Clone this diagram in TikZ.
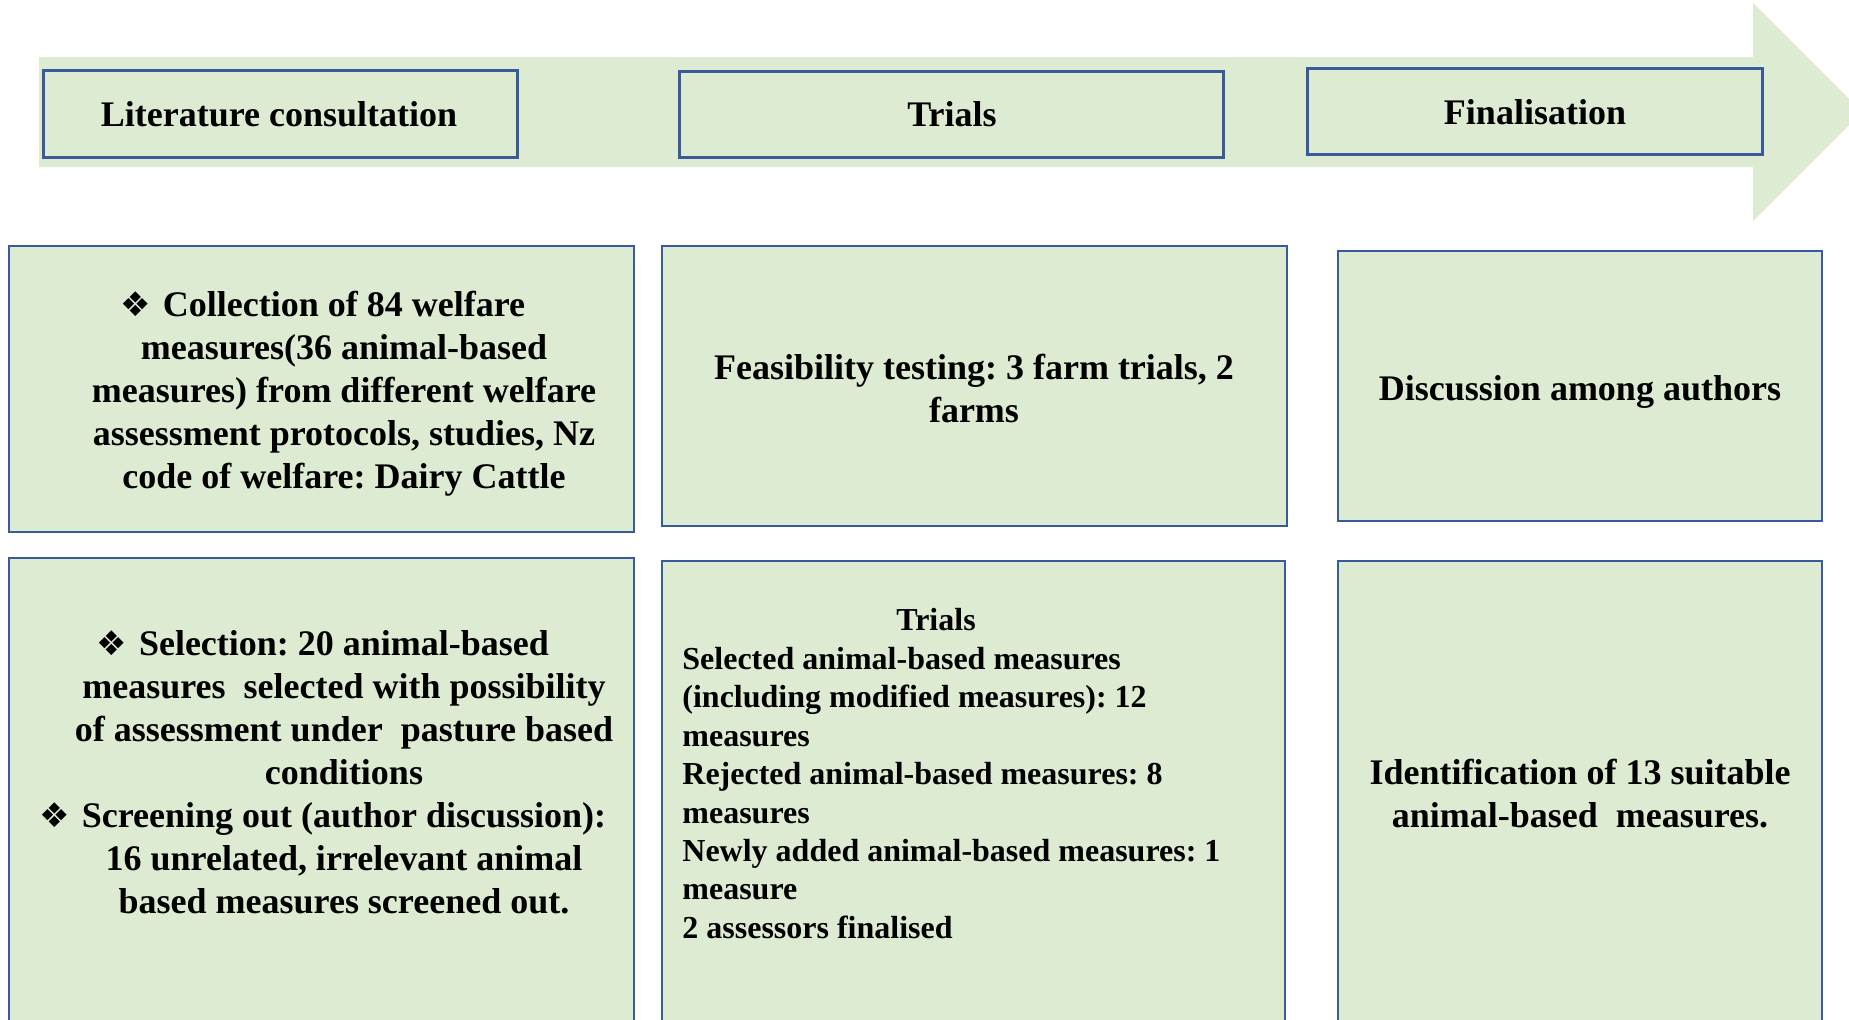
\documentclass[tikz,border=0pt]{standalone}
\usepackage{fontspec}
\setmainfont{Liberation Serif}
\newfontfamily\symfont{DejaVu Sans}
\definecolor{panelgreen}{HTML}{DDEBD2}
\definecolor{panelblue}{HTML}{3A5A9C}
\newcommand{\diabullet}{\llap{{\symfont\fontsize{17}{17}\selectfont\char"2756}\hspace{6pt}}}
\frenchspacing

\tikzset{
    headbox/.style={draw=panelblue,fill=panelgreen,line width=1.5pt},
    panelbox/.style={draw=panelblue,fill=panelgreen,line width=1pt},
    boldtext/.style={font=\bfseries\fontsize{18}{21.5}\selectfont,align=center,inner sep=0pt},
    listtext/.style={font=\bfseries\fontsize{16}{19.2}\selectfont,align=left,inner sep=0pt},
}

\begin{document}
\begin{tikzpicture}[x=0.5pt,y=-0.5pt]
    \useasboundingbox (0,0) rectangle (1849,1019);
    \clip (0,0) rectangle (1849,1019);
    \fill[panelgreen] (39,57)--(1753,57)--(1753,3)--(1862,112)--(1753,221)--(1753,167)--(39,167)--cycle;
    \draw[headbox] (43,70) rectangle (517,157);
    \draw[headbox] (679,71) rectangle (1223,157);
    \draw[headbox] (1307,68) rectangle (1762,154);
    \node[boldtext] (littext) at (279,114) {Literature consultation};
    \node[boldtext] (trialtext) at (952,114) {Trials};
    \node[boldtext] (finaltext) at (1535,112) {Finalisation};
    \draw[panelbox] (9,246) rectangle (634,532);
    \draw[panelbox] (662,246) rectangle (1287,526);
    \draw[panelbox] (1338,251) rectangle (1822,521);
    \draw[panelbox] (9,558) rectangle (634,1040);
    \draw[panelbox] (662,561) rectangle (1285,1040);
    \draw[panelbox] (1338,561) rectangle (1822,1040);
    \node[boldtext] (collect) at (344,394) {\diabullet Collection of 84 welfare\\measures(36 animal-based\\measures) from different welfare\\assessment protocols, studies, Nz\\code of welfare: Dairy Cattle};
    \node[boldtext] (feasible) at (974,388) {Feasibility testing: 3 farm trials, 2\\farms};
    \node[boldtext] (discuss) at (1580,392) {Discussion among authors};
    \node[boldtext] (select) at (344,772) {\diabullet Selection: 20 animal-based\\measures\ \ selected with possibility\\of assessment under\ \ pasture based\\conditions\\\diabullet Screening out (author discussion):\\16 unrelated, irrelevant animal\\based measures screened out.};
    \node[boldtext,font=\bfseries\fontsize{16}{19.2}\selectfont] (trialtitle) at (936,620) {Trials};
    \node[listtext,anchor=west] (triallist) at (682,793) {Selected animal-based measures\\(including modified measures): 12\\measures\\Rejected animal-based measures: 8\\measures\\Newly added animal-based measures: 1\\measure\\2 assessors finalised};
    \node[boldtext] (identify) at (1580,794) {Identification of 13 suitable\\animal-based\ \ measures.};
\end{tikzpicture}
\end{document}
